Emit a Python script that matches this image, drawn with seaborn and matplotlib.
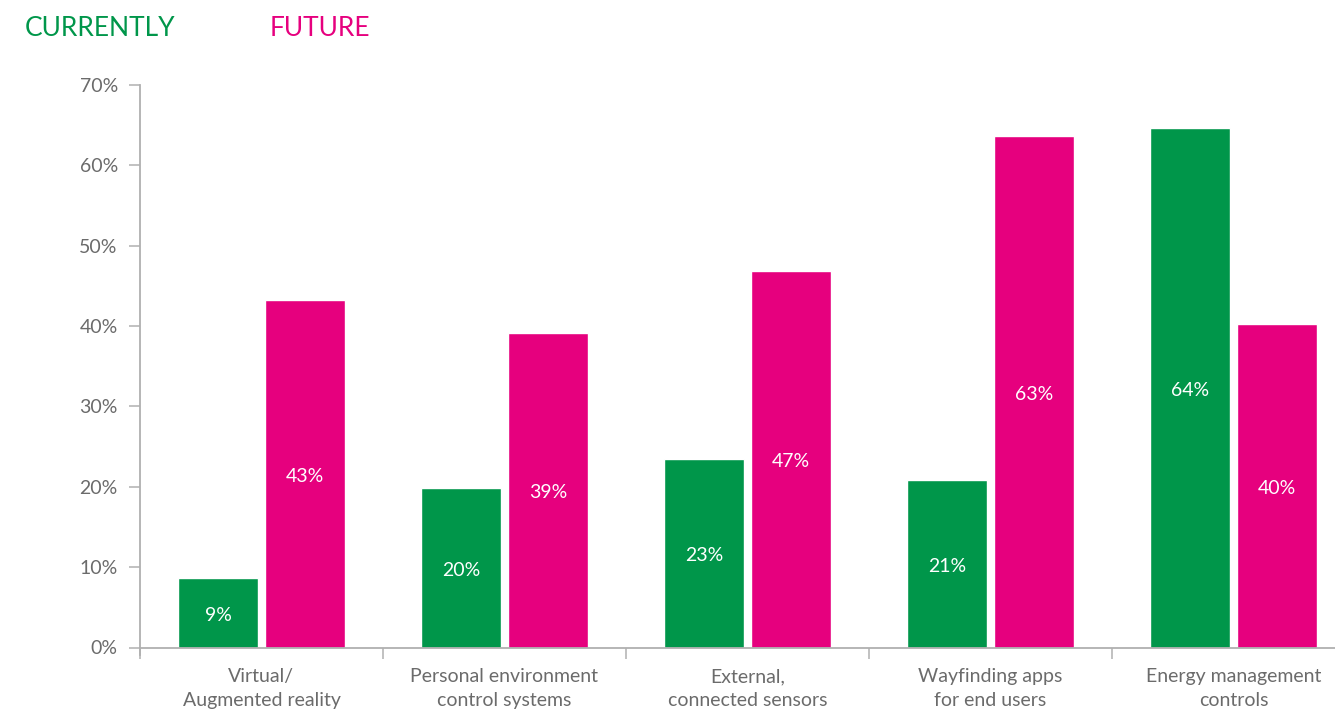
import matplotlib
matplotlib.use("Agg")
import matplotlib.pyplot as plt
import seaborn as sns
import pandas as pd
from matplotlib.ticker import FixedLocator, FuncFormatter

categories = ["Virtual/\nAugmented reality", "Personal environment\ncontrol systems",
              "External,\nconnected sensors", "Wayfinding apps\nfor end users",
              "Energy management\ncontrols"]
currently = [8.7, 19.9, 23.5, 20.9, 64.7]
future = [43.3, 39.2, 46.9, 63.7, 40.3]
currently_labels = ["9%", "20%", "23%", "21%", "64%"]
future_labels = ["43%", "39%", "47%", "63%", "40%"]
series_names = ["CURRENTLY", "FUTURE"]
yticks = [0, 10, 20, 30, 40, 50, 60, 70]

GREEN = "#00964A"
PINK = "#E6007E"
GREY_TXT = "#6b6b6b"
GREY_AX = "#b0b0b0"

sns.set_theme(style="white")
plt.rcParams["font.family"] = ["Lato", "DejaVu Sans"]

df = pd.DataFrame({
    "category": categories * 2,
    "value": currently + future,
    "series": [series_names[0]] * 5 + [series_names[1]] * 5,
})

W, H = 1335, 711
fig = plt.figure(figsize=(W / 100, H / 100), dpi=100)
left = 140 / W
bottom = (H - 647.5) / H
top = (H - 85) / H
ax = fig.add_axes([left, bottom, 1 - left, top - bottom])

sns.barplot(data=df, x="category", y="value", hue="series", order=categories,
            hue_order=series_names, palette=[GREEN, PINK], width=0.716, gap=0.081,
            saturation=1, legend=False, ax=ax, errorbar=None)

for cont, labs in zip(ax.containers, [currently_labels, future_labels]):
    anns = ax.bar_label(cont, labels=labs, label_type="center", color="white",
                        fontsize=14)
    for a in anns:
        a.set_position((0, -2))

ax.set_xlim(-0.5, 4.5 - 20 / 243)
ax.set_ylim(0, 70)
ax.set_xlabel("")
ax.set_ylabel("")
for s in ["top", "right"]:
    ax.spines[s].set_visible(False)
for s in ["left", "bottom"]:
    ax.spines[s].set_color(GREY_AX)
    ax.spines[s].set_linewidth(1.3)
ax.spines["left"].set_bounds(-8 / 8.04, 70)

ax.yaxis.set_major_locator(FixedLocator(yticks))
ax.yaxis.set_major_formatter(FuncFormatter(lambda v, p: f"{int(v)}%"))
ax.tick_params(axis="y", which="major", direction="out", length=8, width=1.1,
               color=GREY_AX, pad=8, labelsize=14, labelcolor=GREY_TXT, left=True)
ax.xaxis.set_minor_locator(FixedLocator([-0.5, 0.5, 1.5, 2.5, 3.5]))
ax.tick_params(axis="x", which="minor", direction="out", length=8, width=1.1,
               color=GREY_AX, bottom=True)
ax.tick_params(axis="x", which="major", length=0, pad=15, labelsize=14,
               labelcolor=GREY_TXT)
for lab in ax.get_xticklabels():
    lab.set_linespacing(1.45)
ax.grid(False)

fig.text(25 / W, 1 - 29 / H, series_names[0], color=GREEN, fontsize=19,
         va="center", ha="left")
fig.text(270 / W, 1 - 29 / H, series_names[1], color=PINK, fontsize=19,
         va="center", ha="left")

fig.savefig("out.png", dpi=100)
